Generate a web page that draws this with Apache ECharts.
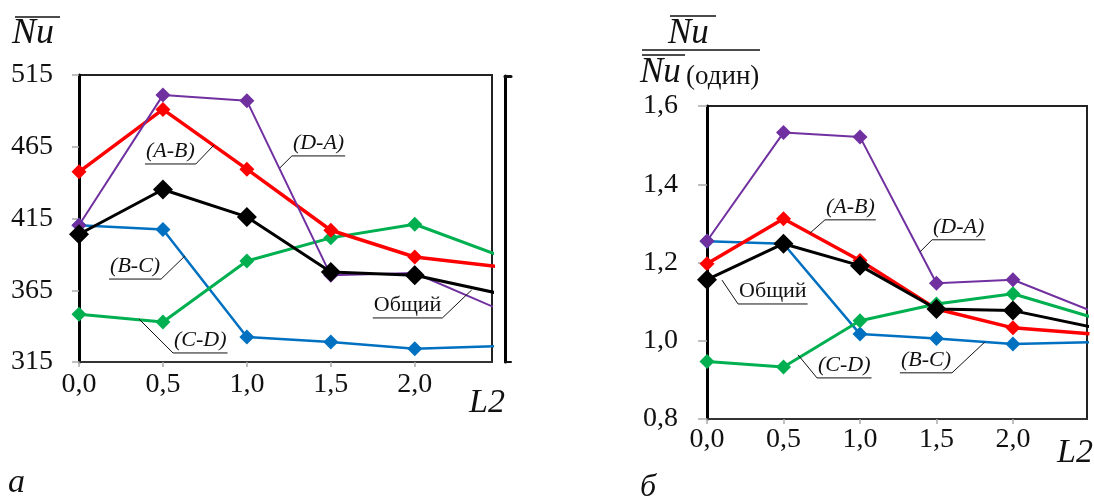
<!DOCTYPE html>
<html>
<head>
<meta charset="utf-8">
<script src="https://cdn.jsdelivr.net/npm/echarts@6/dist/echarts.min.js"></script>
<style>
  html, body { margin: 0; padding: 0; background: #fff; }
  #chart { width: 1094px; height: 502px; }
</style>
</head>
<body>
<div id="chart"></div>
<script>
// x positions (L2/...), the last point lies past the cropped right edge
const xValues = [0, 0.5, 1.0, 1.5, 2.0, 2.5];

// panel а: mean Nu
const nuAB = [447.5, 491, 449.4, 406.8, 388.2, 381.4];
const nuDA = [410.3, 501, 497, 375.4, 377, 351.8];
const nuBC = [410.3, 407.3, 332.4, 328.9, 324.3, 326];
const nuCD = [348.2, 342.9, 385.4, 401.5, 411, 389.3];
const nuTotal = [404, 435.2, 416.1, 377.8, 375.4, 362.8];

// panel б: Nu / Nu(один)
const ratioAB = [1.197, 1.312, 1.205, 1.081, 1.033, 1.018];
const ratioDA = [1.255, 1.532, 1.521, 1.147, 1.156, 1.078];
const ratioBC = [1.254, 1.248, 1.017, 1.006, 0.992, 0.996];
const ratioCD = [0.947, 0.933, 1.051, 1.094, 1.12, 1.062];
const ratioTotal = [1.156, 1.248, 1.192, 1.081, 1.077, 1.036];

// tick labels
const xTicks = [0, 0.5, 1.0, 1.5, 2.0];
const nuTicks = [315, 365, 415, 465, 515];
const ratioTicks = [0.8, 1.0, 1.2, 1.4, 1.6];

const FONT = 'Liberation Serif';

const styles = {
    AB: { color: '#ff0000', width: 3.5, size: 15 },
    DA: { color: '#7030a0', width: 2, size: 15 },
    BC: { color: '#0070c0', width: 2.5, size: 15 },
    CD: { color: '#00b050', width: 3, size: 15 },
    Total: { color: '#000000', width: 3, size: 20 }
};

const pairs = (ys) => xValues.map((x, i) => [x, ys[i]]);

const makeSeries = (name, ys, idx, st) => ({
    name: name,
    type: 'line',
    xAxisIndex: idx,
    yAxisIndex: idx,
    data: pairs(ys),
    symbol: 'diamond',
    symbolSize: st.size,
    lineStyle: { color: st.color, width: st.width },
    itemStyle: { color: st.color },
    clip: true,
    animation: false,
    z: name === 'Общий' ? 5 : 3
});

const commaFmt = (v) => v.toFixed(1).replace('.', ',');

const xAxisFor = (grid, max, margin, tickLen) => ({
    type: 'value',
    gridIndex: grid,
    min: 0,
    max: max,
    axisLine: { show: true, lineStyle: { color: '#333', width: 2 } },
    axisTick: { show: true, inside: false, length: tickLen, customValues: xTicks, lineStyle: { color: '#aaa', width: 1.5 } },
    axisLabel: { customValues: xTicks, formatter: commaFmt, margin: margin, color: '#111', fontSize: 28, fontFamily: FONT },
    splitLine: { show: false }
});

const option = {
    backgroundColor: '#fff',
    animation: false,
    textStyle: { fontFamily: FONT },
    grid: [
        { left: 79, top: 75, width: 413, height: 287, show: true, borderColor: '#222', borderWidth: 2 },
        { left: 707, top: 106, width: 380, height: 313, show: true, borderColor: '#222', borderWidth: 2 },
        // cropped edge of the neighbouring frame
        { left: 505, top: 76, width: 6, height: 286 }
    ],
    xAxis: [
        xAxisFor(0, 2.46, 9, 5),
        xAxisFor(1, 2.484, 7, 5),
        { type: 'value', gridIndex: 2, min: 0, max: 1, axisLine: { lineStyle: { color: '#111', width: 2 } }, axisTick: { show: false }, axisLabel: { show: false }, splitLine: { show: false } },
        { type: 'value', gridIndex: 2, position: 'top', min: 0, max: 1, axisLine: { lineStyle: { color: '#111', width: 3 } }, axisTick: { show: false }, axisLabel: { show: false }, splitLine: { show: false } }
    ],
    yAxis: [
        {
            type: 'value', gridIndex: 0, min: 315, max: 515,
            axisLine: { show: true, lineStyle: { color: '#000', width: 3 } },
            axisTick: { show: true, length: 7, customValues: nuTicks, lineStyle: { color: '#aaa', width: 1.5 } },
            axisLabel: { customValues: nuTicks, margin: 26, color: '#111', fontSize: 28, fontFamily: FONT },
            splitLine: { show: false }
        },
        {
            type: 'value', gridIndex: 1, min: 0.8, max: 1.6,
            axisLine: { show: true, lineStyle: { color: '#000', width: 3 } },
            axisTick: { show: true, length: 9, customValues: ratioTicks, lineStyle: { color: '#aaa', width: 1.5 } },
            axisLabel: { customValues: ratioTicks, formatter: commaFmt, margin: 29, color: '#111', fontSize: 28, fontFamily: FONT },
            splitLine: { show: false }
        },
        { type: 'value', gridIndex: 2, min: 0, max: 1, axisLine: { show: true, lineStyle: { color: '#000', width: 3 } }, axisTick: { show: false }, axisLabel: { show: false }, splitLine: { show: false } }
    ],
    series: [
        makeSeries('(B-C)', nuBC, 0, styles.BC),
        makeSeries('(C-D)', nuCD, 0, styles.CD),
        makeSeries('(A-B)', nuAB, 0, styles.AB),
        makeSeries('(D-A)', nuDA, 0, styles.DA),
        makeSeries('Общий', nuTotal, 0, styles.Total),
        makeSeries('(B-C)', ratioBC, 1, styles.BC),
        makeSeries('(C-D)', ratioCD, 1, styles.CD),
        makeSeries('(A-B)', ratioAB, 1, styles.AB),
        makeSeries('(D-A)', ratioDA, 1, styles.DA),
        makeSeries('Общий', ratioTotal, 1, styles.Total)
    ]
};

// series call-outs: underline start and leader tip in data coordinates
const callouts = [
    { grid: 0, text: '(A-B)', italic: true, at: [0.393, 453.0], tip: [0.804, 466.2], side: 'right' },
    { grid: 0, text: '(D-A)', italic: true, at: [1.268, 458.6], tip: [1.196, 450.2], side: 'left' },
    { grid: 0, text: '(B-C)', italic: true, at: [0.179, 372.8], tip: [0.631, 388.9], side: 'right' },
    { grid: 0, text: '(C-D)', italic: true, at: [0.56, 321.3], tip: [0.357, 345.0], side: 'left' },
    { grid: 0, text: 'Общий', italic: false, at: [1.75, 345.7], tip: [2.339, 365.2], side: 'right' },
    { grid: 1, text: '(A-B)', italic: true, at: [0.771, 1.309], tip: [0.673, 1.275], side: 'left' },
    { grid: 1, text: '(D-A)', italic: true, at: [1.471, 1.258], tip: [1.392, 1.227], side: 'left' },
    { grid: 1, text: 'Общий', italic: false, at: [0.203, 1.094], tip: [0.098, 1.155], side: 'left' },
    { grid: 1, text: '(C-D)', italic: true, at: [0.719, 0.905], tip: [0.595, 0.964], side: 'left' },
    { grid: 1, text: '(B-C)', italic: true, at: [1.261, 0.918], tip: [1.817, 0.997], side: 'right' }
];

const ctx = document.createElement('canvas').getContext('2d');
const textWidth = (t, italic, size) => {
    ctx.font = (italic ? 'italic ' : '') + size + 'px "' + FONT + '"';
    return ctx.measureText(t).width;
};

const txt = (text, x, y, size, italic) => ({
    type: 'text', z: 21, x: x, y: y,
    style: { text: text, fontSize: size, fontFamily: FONT, fontStyle: italic ? 'italic' : 'normal', fill: '#111', align: 'left', verticalAlign: 'top' }
});
const line = (x1, y1, x2, y2, w) => ({
    type: 'line', z: 21,
    shape: { x1: x1, y1: y1, x2: x2, y2: y2 },
    style: { stroke: '#111', lineWidth: w }
});

const chart = echarts.init(document.getElementById('chart'), null, { renderer: 'canvas' });

function build() {
    chart.clear();
    chart.setOption(option);

    const graphics = [];
    callouts.forEach((c) => {
        const p = chart.convertToPixel({ gridIndex: c.grid }, c.at);
        const tip = chart.convertToPixel({ gridIndex: c.grid }, c.tip);
        const w = textWidth(c.text, c.italic, 22) + 2;
        const left = [p[0], p[1]];
        const right = [p[0] + w, p[1]];
        const pts = c.side === 'right' ? [left, right, tip] : [right, left, tip];
        graphics.push({
            type: 'polyline', z: 20,
            shape: { points: pts },
            style: { stroke: '#111', lineWidth: 1, fill: null }
        });
        graphics.push({
            type: 'text', z: 21,
            x: p[0] + 1, y: p[1] - 2,
            style: { text: c.text, fontSize: 22, fontFamily: FONT, fontStyle: c.italic ? 'italic' : 'normal', fill: '#111', align: 'left', verticalAlign: 'bottom' }
        });
    });

    // axis titles and panel letters
    graphics.push(
        txt('Nu', 12, 16, 36, true),
        line(15, 17, 60, 17, 1.5),
        txt('L2', 469, 386, 34, true),
        txt('а', 8, 466, 34, true),

        txt('Nu', 668, 16, 35, true),
        line(670, 16, 716, 16, 1.5),
        line(642, 50, 760, 50, 1.5),
        line(642, 55, 685, 55, 1.5),
        txt('Nu', 640, 55, 35, true),
        txt('(один)', 686, 63, 27, false),
        txt('L2', 1057, 436, 34, true),
        txt('б', 640, 472, 32, true)
    );

    chart.setOption({ graphic: graphics });
}

build();
// redraw once the serif faces are ready, so canvas text does not keep a fallback face
Promise.all([
    document.fonts.load('28px "' + FONT + '"'),
    document.fonts.load('italic 28px "' + FONT + '"')
]).then(build, build);
</script>
</body>
</html>
